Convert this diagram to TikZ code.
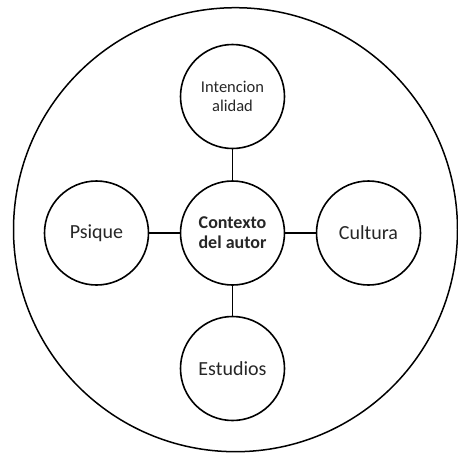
\documentclass[tikz,border=0pt]{standalone}
\usepackage{fontspec}
\setmainfont{Carlito}
\begin{document}
\begin{tikzpicture}[x=1pt,y=-1pt,
  bubble/.style={circle,draw=black,line width=1.6pt,minimum size=104pt,inner sep=0pt,
    align=center,text=black!85,font=\fontsize{20}{24}\selectfont},
  link/.style={draw=black,line width=1.6pt}]
\useasboundingbox (0,0) rectangle (458,453);
% outer enclosing circle
\draw[line width=1.5pt] (235.5,229.7) circle[radius=222];
% central concept and its four aspects
\node[bubble,font=\bfseries\fontsize{18}{20}\selectfont] (ctx) at (232.5,233) {Contexto\\del autor};
\node[bubble,font=\fontsize{16.5}{18.5}\selectfont] (int) at (232.5,96.5) {Intencion\\alidad};
\node[bubble] (psi) at (96.5,233) {Psique};
\node[bubble] (cul) at (368.5,233) {Cultura};
\node[bubble] (est) at (232.5,368.5) {Estudios};
\draw[link] (ctx) -- (int);
\draw[link] (ctx) -- (psi);
\draw[link] (ctx) -- (cul);
\draw[link] (ctx) -- (est);
\end{tikzpicture}
\end{document}
